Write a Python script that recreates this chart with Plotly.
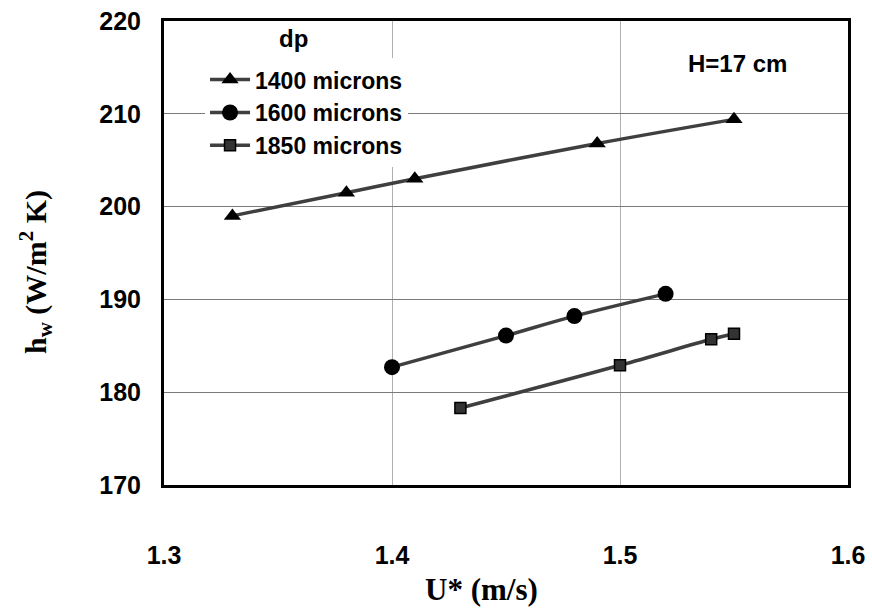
import plotly.graph_objects as go

x1400 = [1.33, 1.38, 1.41, 1.49, 1.55]
y1400 = [199.0, 201.5, 203.0, 206.8, 209.4]
x1600 = [1.40, 1.45, 1.48, 1.52]
y1600 = [182.7, 186.1, 188.2, 190.6]
x1850 = [1.43, 1.50, 1.54, 1.55]
y1850 = [178.3, 182.9, 185.7, 186.3]
xticks = [1.3, 1.4, 1.5, 1.6]
yticks = [170, 180, 190, 200, 210, 220]

SANS = "Arial, Liberation Sans"
SERIF = "Times New Roman, Liberation Serif"

fig = go.Figure()
line = dict(color="#3f3f3f", width=3.5, shape="spline")
fig.add_trace(go.Scatter(x=x1400, y=y1400, mode="lines+markers", name="<b>1400 microns</b>",
                         line=line, marker=dict(symbol="triangle-up", size=15, color="black")))
fig.add_trace(go.Scatter(x=x1600, y=y1600, mode="lines+markers", name="<b>1600 microns</b>",
                         line=line, marker=dict(symbol="circle", size=16, color="black")))
fig.add_trace(go.Scatter(x=x1850, y=y1850, mode="lines+markers", name="<b>1850 microns</b>",
                         line=line, marker=dict(symbol="square", size=11, color="#333333",
                                                line=dict(color="black", width=1.5))))

tickfont = dict(family=SANS, size=25, color="black")
fig.update_layout(
    width=872, height=613,
    margin=dict(l=164, r=24, t=21, b=128),
    paper_bgcolor="white", plot_bgcolor="white",
    showlegend=True,
    legend=dict(x=0.06, y=0.92, xanchor="left", yanchor="top",
                bgcolor="white", borderwidth=0,
                font=dict(family=SANS, size=23, color="black"),
                tracegroupgap=0, itemwidth=40),
    xaxis=dict(range=[1.3, 1.6], tickvals=xticks, ticktext=[f"<b>{v:.1f}</b>" for v in xticks],
               showgrid=True, gridcolor="#b0b0b0", gridwidth=1, automargin=False,
               showline=True, linecolor="black", linewidth=3, mirror=True,
               ticks="", tickfont=tickfont, ticklabelstandoff=46, zeroline=False),
    yaxis=dict(range=[170, 220], tickvals=yticks, ticktext=[f"<b>{v}</b>" for v in yticks],
               showgrid=True, gridcolor="#7a7a7a", gridwidth=1, automargin=False,
               showline=True, linecolor="black", linewidth=3, mirror=True,
               ticks="", tickfont=tickfont, ticklabelstandoff=15, zeroline=False),
    annotations=[
        dict(x=0.839, y=0.909, xref="paper", yref="paper", xanchor="center", yanchor="middle",
             text="<b>H=17 cm</b>", showarrow=False,
             font=dict(family=SANS, size=24, color="black")),
        dict(x=0.1886, y=0.962, xref="paper", yref="paper", xanchor="center", yanchor="middle",
             text="<b>dp</b>", showarrow=False,
             font=dict(family=SANS, size=24, color="black")),
        dict(x=0.4635, y=-0.226, xref="paper", yref="paper", xanchor="center", yanchor="middle",
             text="<b>U* (m/s)</b>", showarrow=False,
             font=dict(family=SERIF, size=31, color="black")),
        dict(x=-0.1886, y=0.459, xref="paper", yref="paper", xanchor="center", yanchor="middle",
             text="<b>h<sub>w</sub> (W/m<sup>2</sup> K)</b>", showarrow=False, textangle=-90,
             font=dict(family=SERIF, size=30, color="black")),
    ],
)
fig.write_html("out.html")
